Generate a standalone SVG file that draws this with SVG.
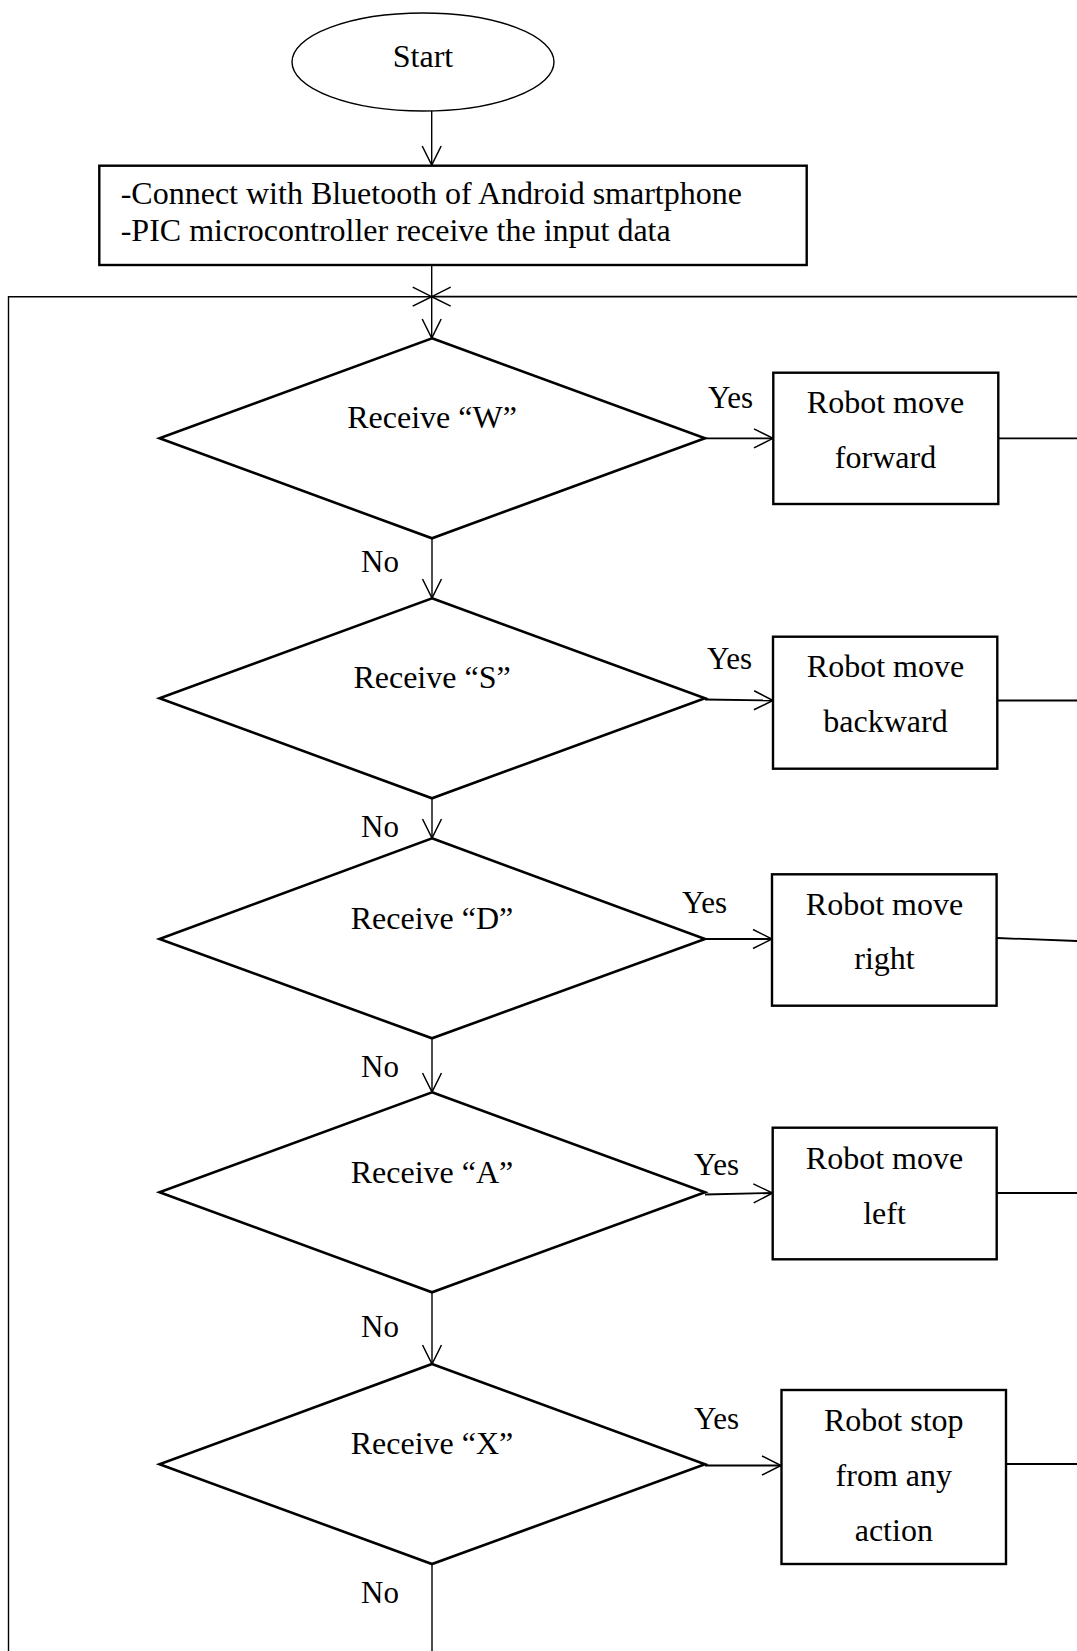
<svg xmlns="http://www.w3.org/2000/svg" width="1077" height="1651" viewBox="0 0 1077 1651">
  <style>
    .shape { fill: #fff; stroke: #000; }
    .term { stroke-width: 1.4; }
    .proc { stroke-width: 2.4; }
    .dec { stroke-width: 2.6; stroke-linejoin: miter; }
    .t { font-family: "Liberation Serif", "Times New Roman", serif; font-size: 32px; fill: #000; }
    .mid { text-anchor: middle; }
    .lbl { font-size: 31px; }
    .ln { fill: none; stroke: #000; stroke-width: 1.4; }
    .ln2 { stroke-width: 1.8; }
  </style>
  <defs>
    <marker id="ah" markerUnits="userSpaceOnUse" markerWidth="26" markerHeight="26" viewBox="-22 -13 26 26" refX="0" refY="0" orient="auto" overflow="visible">
      <path d="M-19,-9.5 L0,0 L-19,9.5" fill="none" stroke="#000" stroke-width="1.5"/>
    </marker>
  </defs>

  <rect width="1077" height="1651" fill="#fff"/>

  <!-- connectors -->
  <g id="connectors">
    <path class="ln" d="M431.7,110.5 V165" marker-end="url(#ah)"/>
    <path class="ln" d="M431.7,265 V296.7"/>
    <path class="ln" d="M431.7,296.7 V338" marker-end="url(#ah)"/>
    <path class="ln" d="M8.5,1651 V296.7 H431.7" marker-end="url(#ah)"/>
    <path class="ln ln2" d="M1077,296.7 H431.7" marker-end="url(#ah)"/>

    <path class="ln ln2" d="M705,438.3 H773" marker-end="url(#ah)"/>
    <path class="ln ln2" d="M997,438.3 H1077"/>
    <path class="ln" d="M432,538.3 V598" marker-end="url(#ah)"/>

    <path class="ln ln2" d="M705,699.5 L773,700.5" marker-end="url(#ah)"/>
    <path class="ln ln2" d="M997,700.5 H1077"/>
    <path class="ln" d="M432,798.3 V838" marker-end="url(#ah)"/>

    <path class="ln ln2" d="M705,939 H772" marker-end="url(#ah)"/>
    <path class="ln ln2" d="M997,938 L1077,941"/>
    <path class="ln" d="M432,1038.3 V1092" marker-end="url(#ah)"/>

    <path class="ln ln2" d="M705,1194.5 L772.5,1193" marker-end="url(#ah)"/>
    <path class="ln ln2" d="M997,1193 H1077"/>
    <path class="ln" d="M432,1292.3 V1364" marker-end="url(#ah)"/>

    <path class="ln ln2" d="M705,1465.5 H781" marker-end="url(#ah)"/>
    <path class="ln ln2" d="M1006,1464 H1077"/>
    <path class="ln" d="M432,1564 V1651"/>

    <!-- branch labels -->
    <text class="t lbl" x="708" y="408">Yes</text>
    <text class="t lbl" x="707" y="669">Yes</text>
    <text class="t lbl" x="682" y="913">Yes</text>
    <text class="t lbl" x="694" y="1175">Yes</text>
    <text class="t lbl" x="694" y="1429">Yes</text>
    <text class="t lbl" x="361" y="572">No</text>
    <text class="t lbl" x="361" y="837">No</text>
    <text class="t lbl" x="361" y="1077">No</text>
    <text class="t lbl" x="361" y="1337">No</text>
    <text class="t lbl" x="361" y="1603">No</text>
  </g>

  <!-- start -->
  <g id="start">
    <ellipse class="shape term" cx="423" cy="62" rx="131" ry="49"/>
    <text class="t mid" x="423" y="67">Start</text>
  </g>

  <!-- initialisation -->
  <g id="init">
    <rect class="shape proc" x="99.3" y="165.7" width="707.4" height="99.3"/>
    <text class="t" x="120.7" y="204">-Connect with Bluetooth of Android smartphone</text>
    <text class="t" x="120.7" y="240.7">-PIC microcontroller receive the input data</text>
  </g>

  <!-- decisions -->
  <g id="dec-w">
    <polygon class="shape dec" points="432,338.3 705,438.3 432,538.3 159.5,438.3"/>
    <text class="t mid" x="432" y="428">Receive “W”</text>
  </g>
  <g id="dec-s">
    <polygon class="shape dec" points="432,598.3 705,698.3 432,798.3 159.5,698.3"/>
    <text class="t mid" x="432" y="688">Receive “S”</text>
  </g>
  <g id="dec-d">
    <polygon class="shape dec" points="432,838.3 705,939 432,1038.3 159.5,939"/>
    <text class="t mid" x="432" y="928.5">Receive “D”</text>
  </g>
  <g id="dec-a">
    <polygon class="shape dec" points="432,1092.3 705,1192.3 432,1292.3 159.5,1192.3"/>
    <text class="t mid" x="432" y="1182.5">Receive “A”</text>
  </g>
  <g id="dec-x">
    <polygon class="shape dec" points="432,1364 705,1464.3 432,1564 159.5,1464.3"/>
    <text class="t mid" x="432" y="1454">Receive “X”</text>
  </g>

  <!-- actions -->
  <g id="act-forward">
    <rect class="shape proc" x="773.3" y="372.7" width="225" height="131.3"/>
    <text class="t mid" x="885.5" y="413">Robot move</text>
    <text class="t mid" x="885.5" y="467.5">forward</text>
  </g>
  <g id="act-backward">
    <rect class="shape proc" x="773" y="636.7" width="224.3" height="132"/>
    <text class="t mid" x="885.5" y="677">Robot move</text>
    <text class="t mid" x="885.5" y="732">backward</text>
  </g>
  <g id="act-right">
    <rect class="shape proc" x="772" y="874.3" width="224.6" height="131.4"/>
    <text class="t mid" x="884.5" y="914.5">Robot move</text>
    <text class="t mid" x="884.5" y="969">right</text>
  </g>
  <g id="act-left">
    <rect class="shape proc" x="772.7" y="1127.7" width="224" height="131.6"/>
    <text class="t mid" x="884.5" y="1168.5">Robot move</text>
    <text class="t mid" x="884.5" y="1223.5">left</text>
  </g>
  <g id="act-stop">
    <rect class="shape proc" x="781.5" y="1390" width="224.5" height="174"/>
    <text class="t mid" x="893.8" y="1430.5">Robot stop</text>
    <text class="t mid" x="893.8" y="1485.5">from any</text>
    <text class="t mid" x="893.8" y="1540.5">action</text>
  </g>
</svg>
